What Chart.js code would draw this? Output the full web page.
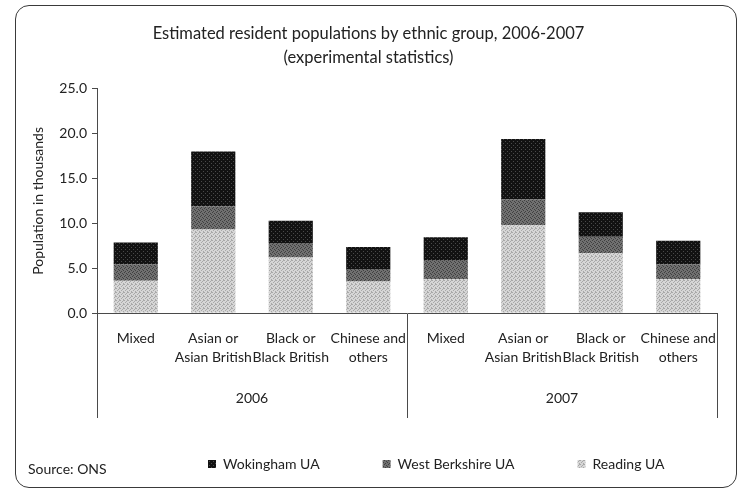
<!DOCTYPE html>
<html>
<head>
<meta charset="utf-8">
<script src="https://cdn.jsdelivr.net/npm/chart.js@4/dist/chart.umd.min.js"></script>
<style>
  body { margin: 0; background: #fff; }
  #wrap { position: relative; width: 739px; height: 491px; }
  #frame { position: absolute; left: 15px; top: 5px; width: 720px; height: 481px;
           border: 1.5px solid #3a3a3a; border-radius: 14px; pointer-events: none; }
  #source { position: absolute; left: 28px; top: 460px; font: 14px Lato, sans-serif; color: #222; }
</style>
</head>
<body>
<div id="wrap">
  <canvas id="chart" width="739" height="491"></canvas>
  <div id="frame"></div>
  <div id="source">Source: ONS</div>
</div>
<script>
// categorias y años (eje x en dos niveles)
const categories = [
    'Mixed', ['Asian or', 'Asian British'], ['Black or', 'Black British'], ['Chinese and', 'others'],
    'Mixed', ['Asian or', 'Asian British'], ['Black or', 'Black British'], ['Chinese and', 'others'],
];
const years = ['2006', '2007'];
const yTicks = [0, 5, 10, 15, 20, 25];

// valores en miles
const reading = [3.6, 9.3, 6.2, 3.5, 3.8, 9.8, 6.7, 3.8];
const westBerkshire = [1.85, 2.6, 1.6, 1.4, 2.1, 2.9, 1.8, 1.65];
const wokingham = [2.4, 6.1, 2.5, 2.45, 2.55, 6.7, 2.75, 2.6];

const ctx = document.getElementById('chart').getContext('2d');
const font = { family: 'Lato, sans-serif', size: 14, lineHeight: 1.35 };
const ink = '#222';
const axisColor = '#4a4a4a';

// textura punteada como en la hoja original
const makePattern = (base, speck, dots) => {
    const c = document.createElement('canvas');
    c.width = 4;
    c.height = 4;
    const g = c.getContext('2d');
    g.fillStyle = base;
    g.fillRect(0, 0, 4, 4);
    g.fillStyle = speck;
    dots.forEach(([x, y]) => g.fillRect(x, y, 1, 1));
    return ctx.createPattern(c, 'repeat');
};

const colors = {
    reading: makePattern('#d6d6d6', '#a8a8a8', [[0, 0], [2, 1], [1, 2], [3, 3], [3, 0]]),
    westBerkshire: makePattern('#707070', '#404040', [[0, 0], [2, 1], [1, 3], [3, 2]]),
    wokingham: makePattern('#121212', '#4a4a4a', [[1, 1], [3, 3]]),
};

// mueve la leyenda a su sitio (a la derecha de "Source")
const legendPlace = {
    id: 'legendPlace',
    afterLayout(chart) {
        const l = chart.legend;
        const w = l.right - l.left;
        const h = l.bottom - l.top;
        l.left = 145;
        l.right = 145 + w;
        l.top = 394;
        l.bottom = 394 + h;
    },
};

new Chart(ctx, {
    type: 'bar',
    data: {
        labels: categories,
        datasets: [
            { label: 'Reading UA', data: reading, backgroundColor: colors.reading },
            { label: 'West Berkshire UA', data: westBerkshire, backgroundColor: colors.westBerkshire },
            { label: 'Wokingham UA', data: wokingham, backgroundColor: colors.wokingham },
        ],
    },
    options: {
        responsive: false,
        animation: false,
        categoryPercentage: 1,
        barPercentage: 0.57,
        layout: { padding: { left: 20, right: 22, top: 0, bottom: -14 } },
        scales: {
            x: {
                stacked: true,
                grid: {
                    offset: true,
                    drawOnChartArea: false,
                    tickLength: 57,
                    color: c => (c.index === undefined || c.index % 4 === 0) ? axisColor : 'rgba(0,0,0,0)',
                },
                border: { display: true, color: axisColor },
                ticks: { padding: -41, font, color: ink, autoSkip: false, maxRotation: 0 },
                afterFit: s => { s.height = 57; },
            },
            x2: {
                type: 'category',
                position: 'bottom',
                labels: years,
                grid: { offset: true, drawOnChartArea: false, tickLength: 48, color: axisColor },
                border: { display: false },
                ticks: { padding: -29, font, color: ink },
                afterFit: s => { s.height = 48; },
            },
            y: {
                stacked: true,
                min: yTicks[0],
                max: yTicks[yTicks.length - 1],
                afterBuildTicks: s => { s.ticks = yTicks.map(v => ({ value: v })); },
                grid: { drawOnChartArea: false, tickLength: 5, color: axisColor },
                border: { color: axisColor },
                ticks: { padding: 5, font, color: ink, callback: v => v.toFixed(1) },
                title: { display: true, text: 'Population in thousands', font, color: ink, padding: { top: 9, bottom: 0 } },
                afterFit: s => { s.width = 77; },
            },
        },
        plugins: {
            title: {
                display: true,
                text: ['Estimated resident populations by ethnic group, 2006-2007', '(experimental statistics)'],
                font: { family: 'Lato, sans-serif', size: 16.5, weight: 'normal', lineHeight: 1.45 },
                color: ink,
                padding: { top: 22, bottom: 19 },
            },
            legend: {
                position: 'bottom',
                align: 'start',
                reverse: true,
                labels: { boxWidth: 8, boxHeight: 8, padding: 63, font, color: ink },
            },
            tooltip: { enabled: false },
        },
    },
    plugins: [legendPlace],
});
</script>
</body>
</html>
